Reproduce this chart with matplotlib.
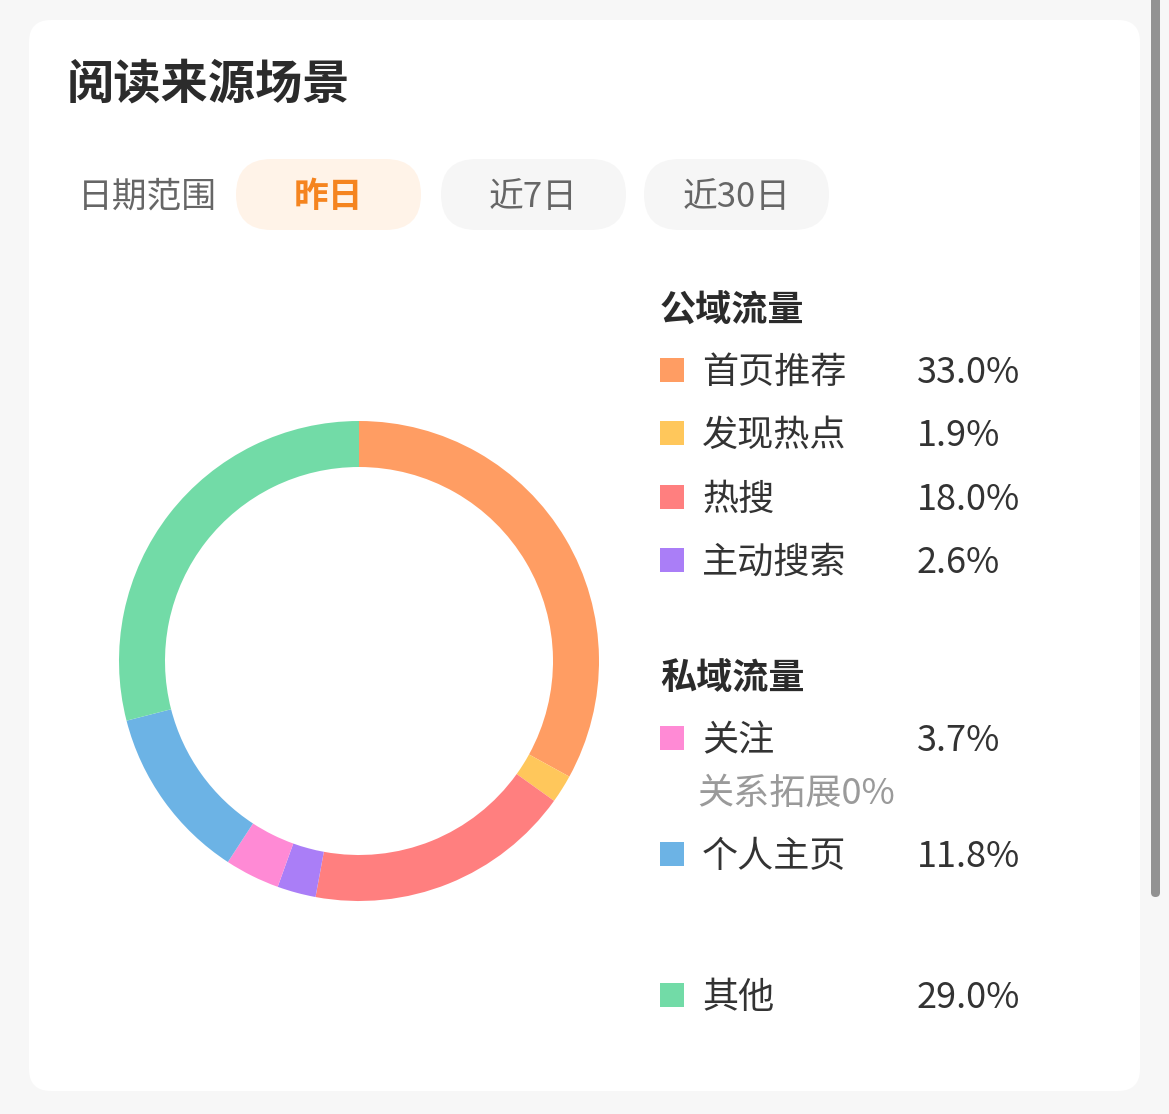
import matplotlib.pyplot as plt
from matplotlib.patches import FancyBboxPatch, Rectangle

plt.rcParams['font.family'] = ['Noto Sans CJK SC', 'DejaVu Sans']

# data
labels = ['首页推荐', '发现热点', '热搜', '主动搜索', '关注', '个人主页', '其他']
values = [33.0, 1.9, 18.0, 2.6, 3.7, 11.8, 29.0]
colors = ['#FF9D63', '#FFC75B', '#FF7F7F', '#AA7EF7', '#FF8AD5', '#6CB3E5', '#72DBA7']
groups = ['公域流量', '私域流量']
tabs = ['昨日', '近7日', '近30日']

W, H = 1169, 1114
fig = plt.figure(figsize=(W / 100, H / 100), dpi=100)
fig.patch.set_facecolor('#F7F7F7')

# pixel-space axes for background, text and legend
bg = fig.add_axes([0, 0, 1, 1])
bg.set_xlim(0, W)
bg.set_ylim(H, 0)
bg.axis('off')

dy = 3  # CJK glyphs sit a bit high with va='center'

card = FancyBboxPatch((29, 20), 1111, 1071, boxstyle='round,pad=0,rounding_size=22',
                      fc='white', ec='none')
bg.add_patch(card)
# scrollbar
bg.add_patch(FancyBboxPatch((1151, -10), 9, 907, boxstyle='round,pad=0,rounding_size=4.5',
                            fc='#929292', ec='none'))

bg.text(67, 82 + dy, '阅读来源场景', fontsize=34, fontweight='bold', color='#2B2B2B', va='center')
bg.text(78, 194 + dy, '日期范围', fontsize=25, color='#666666', va='center')

pill_x = [236, 441, 644]
for i, t in enumerate(tabs):
    sel = i == 0
    bg.add_patch(FancyBboxPatch((pill_x[i], 159), 185, 71,
                                boxstyle='round,pad=0,rounding_size=35.5',
                                fc='#FFF3E8' if sel else '#F6F6F6', ec='none'))
    bg.text(pill_x[i] + 92.5, 194 + dy, t, fontsize=25, ha='center', va='center',
            color='#F5841F' if sel else '#666666', fontweight='bold' if sel else 'normal')

# legend
rows_y = [370, 433, 497, 560, 738, 854, 995]
head_y = [308, 675]
for g, y in zip(groups, head_y):
    bg.text(660, y + dy, g, fontsize=26, fontweight='bold', color='#2B2B2B', va='center')
for lab, v, c, y in zip(labels, values, colors, rows_y):
    bg.add_patch(Rectangle((660, y - 12), 24, 24, fc=c, ec='none'))
    bg.text(702, y + dy, lab, fontsize=26, color='#333333', va='center')
    bg.text(917, y + dy, f'{v:.1f}%', fontsize=26, color='#333333', va='center')
bg.text(697, 791 + dy, '关系拓展0%', fontsize=26, color='#9A9A9A', va='center')

# donut
cx, cy, r = 359, 661, 240
ax = fig.add_axes([(cx - r) / W, (H - cy - r) / H, 2 * r / W, 2 * r / H])
ax.pie(values, colors=colors, startangle=90, counterclock=False, radius=1,
       wedgeprops=dict(width=46 / r, linewidth=0))
ax.set_xlim(-1, 1)
ax.set_ylim(-1, 1)
ax.set_aspect('equal')
ax.axis('off')

fig.savefig('out.png', dpi=100, facecolor=fig.get_facecolor())
